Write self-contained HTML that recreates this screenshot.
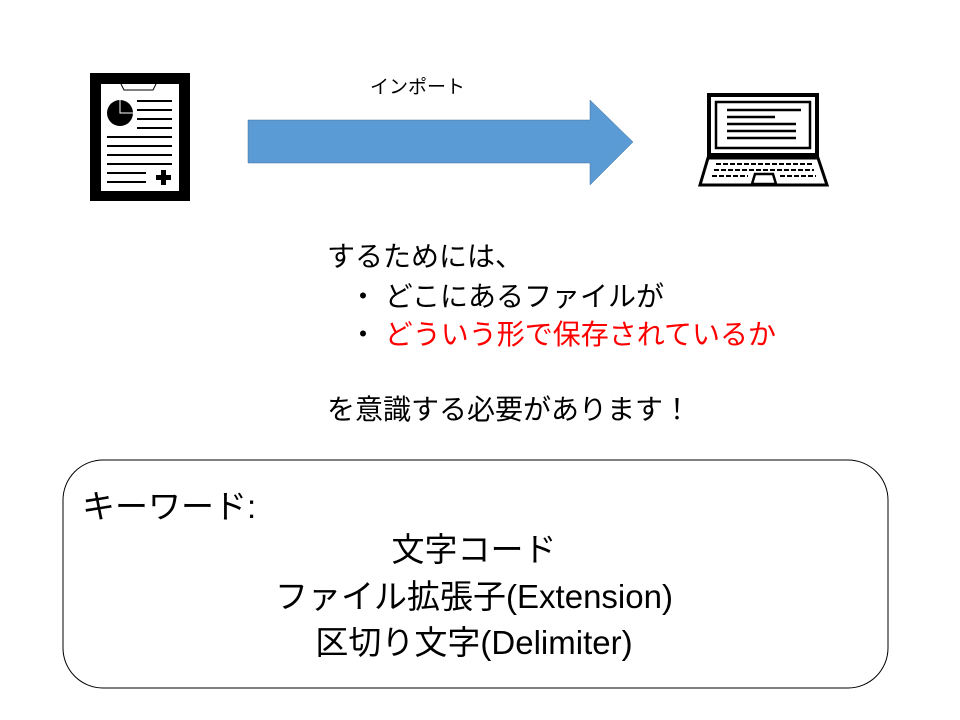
<!DOCTYPE html>
<html><head><meta charset="utf-8"><style>
body{margin:0;width:960px;height:720px;background:#fff;position:relative;overflow:hidden;font-family:"Liberation Sans","Noto Sans CJK JP",sans-serif;color:#000}
.t{position:absolute;white-space:nowrap;line-height:1}
</style></head><body>
<svg width="960" height="720" style="position:absolute;left:0;top:0">
<rect x="90" y="73" width="100" height="128" fill="#000"/>
<rect x="101" y="84" width="78" height="107" fill="#fff"/>
<path d="M121 84 L124 90 L153 90 L156 84" fill="none" stroke="#000" stroke-width="1"/>
<circle cx="120" cy="113" r="13" fill="#000"/>
<path d="M120 100 V113 H133" fill="none" stroke="#fff" stroke-width="1"/>
<g stroke="#000" stroke-width="2">
<line x1="137" y1="101" x2="172" y2="101"/><line x1="137" y1="110" x2="172" y2="110"/>
<line x1="137" y1="119" x2="172" y2="119"/><line x1="137" y1="128" x2="172" y2="128"/>
<line x1="107" y1="137" x2="172" y2="137"/><line x1="107" y1="146" x2="172" y2="146"/>
<line x1="107" y1="155" x2="172" y2="155"/><line x1="107" y1="164" x2="172" y2="164"/>
<line x1="107" y1="173" x2="146" y2="173"/><line x1="107" y1="182" x2="146" y2="182"/>
</g>
<path d="M161 170h5v5h5v5h-5v5h-5v-5h-5v-5h5z" fill="#000"/>
<polygon points="248,120 590,120 590,100 633,142 590,185 590,163 248,163" fill="#5B9BD5" stroke="#41719C" stroke-width="0.5"/>
<rect x="709" y="95" width="108" height="60" fill="none" stroke="#000" stroke-width="4"/>
<rect x="716" y="102" width="94" height="46" fill="none" stroke="#000" stroke-width="2.5"/>
<g stroke="#000" stroke-width="2.5">
<line x1="727" y1="110" x2="801" y2="110"/><line x1="727" y1="117" x2="775" y2="117"/>
<line x1="727" y1="124" x2="796" y2="124"/><line x1="727" y1="131" x2="796" y2="131"/>
<line x1="727" y1="138" x2="796" y2="138"/>
</g>
<polygon points="708,158 818,158 827,185 700,185" fill="none" stroke="#000" stroke-width="3"/>
<g stroke="#000" stroke-width="2" stroke-dasharray="5,2">
<line x1="716" y1="164" x2="812" y2="164"/><line x1="714" y1="170" x2="814" y2="170"/>
<line x1="712" y1="176" x2="748" y2="176"/><line x1="780" y1="176" x2="816" y2="176"/>
</g>
<polygon points="752,184 755,174 773,174 776,184" fill="none" stroke="#000" stroke-width="2.5"/>
<rect x="63" y="460" width="825" height="228" rx="40" ry="40" fill="none" stroke="#000" stroke-width="1"/>
</svg>
<div class="t" style="left:370px;top:78px;font-size:19px">インポート</div>
<div class="t" style="left:327px;top:243px;font-size:28px">するためには、</div>
<div class="t" style="left:349px;top:283px;font-size:28px">・ どこにあるファイルが</div>
<div class="t" style="left:349px;top:321px;font-size:28px">・ <span style="color:#f00">どういう形で保存されているか</span></div>
<div class="t" style="left:327px;top:396px;font-size:28px">を意識する必要があります！</div>
<div class="t" style="left:82px;top:490px;font-size:33px">キーワード:</div>
<div class="t" style="left:0;width:948px;text-align:center;top:533px;font-size:33px">文字コード</div>
<div class="t" style="left:0;width:948px;text-align:center;top:580px;font-size:33px">ファイル拡張子(Extension)</div>
<div class="t" style="left:0;width:948px;text-align:center;top:626px;font-size:33px">区切り文字(Delimiter)</div>
</body></html>
